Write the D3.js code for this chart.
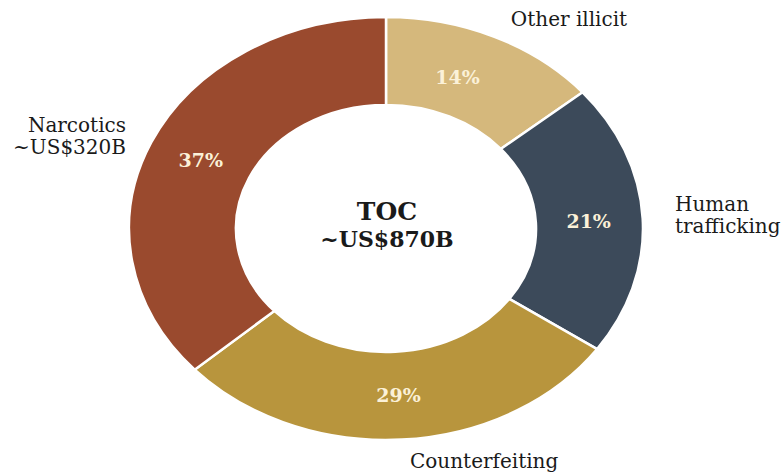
<!DOCTYPE html>
<html>
<head>
<meta charset="utf-8">
<script src="https://cdn.jsdelivr.net/npm/d3@7"></script>
<style>
  body { margin: 0; background: #fff; }
  text { font-family: "DejaVu Serif", serif; }
</style>
</head>
<body>
<div class="donut"></div>
<script>
// slices clockwise from 12 o'clock
const categories = ["Other illicit", "Human trafficking", "Counterfeiting", "Narcotics"]
const shares = [14, 21, 29, 37]
const colors = ["#d5b87c", "#3c4a5a", "#b8953d", "#9a4a2e"]
const centerLines = ["TOC", "~US$870B"]

let width = 782
let height = 474
let cx = 386, cy = 228.5
let radius = 211.5
let inner = 123.5
let stretch = 1.215   // the reference donut is wider than tall

let svg = d3.select(".donut")
    .append("svg")
    .attr("width", width)
    .attr("height", height)

let data = categories.map((c, i) => ({name: c, value: shares[i], color: colors[i]}))

let pie = d3.pie()
    .sort(null)
    .value(d => d.value)
let data_ready = pie(data)

let arc = d3.arc().innerRadius(inner).outerRadius(radius)
let labelArc = d3.arc().innerRadius(150).outerRadius(184)

let g = svg.append("g")
    .attr("transform", "translate(" + cx + "," + cy + ") scale(" + stretch + ",1)")

g.selectAll("path")
    .data(data_ready)
    .enter()
    .append("path")
    .attr("d", arc)
    .attr("fill", d => d.data.color)
    .attr("stroke", "#fff")
    .attr("stroke-width", 2.5)
    .attr("vector-effect", "non-scaling-stroke")

// percentage labels at slice centroids (first one sits a bit left in the reference)
svg.selectAll(".pct")
    .data(data_ready)
    .enter()
    .append("text")
    .attr("class", "pct")
    .attr("x", (d, i) => cx + labelArc.centroid(d)[0] * stretch - (i === 0 ? 14 : 0))
    .attr("y", d => cy + labelArc.centroid(d)[1] + 7)
    .attr("text-anchor", "middle")
    .style("font-size", "19px")
    .style("font-weight", "bold")
    .style("fill", "#fbf1d8")
    .text(d => d.data.value + "%")

// centre title
svg.append("text")
    .attr("x", cx + 1)
    .attr("y", 220)
    .attr("text-anchor", "middle")
    .style("font-size", "25px")
    .style("font-weight", "bold")
    .style("fill", "#1a1a1a")
    .text(centerLines[0])
svg.append("text")
    .attr("x", cx + 1)
    .attr("y", 247)
    .attr("text-anchor", "middle")
    .style("font-size", "22px")
    .style("font-weight", "bold")
    .style("fill", "#1a1a1a")
    .text(centerLines[1])

// outside category labels
let outside = [
    {lines: ["Other illicit"], x: 569, y: 26, anchor: "middle"},
    {lines: ["Human", "trafficking"], x: 675, y: 211, anchor: "start"},
    {lines: ["Counterfeiting"], x: 410, y: 468, anchor: "start"},
    {lines: ["Narcotics", "~US$320B"], x: 126, y: 132, anchor: "end"}
]

outside.forEach(o => {
    let t = svg.append("text")
        .attr("text-anchor", o.anchor)
        .style("font-size", "20px")
        .style("fill", "#1a1a1a")
    o.lines.forEach((l, i) => {
        t.append("tspan")
            .attr("x", o.x)
            .attr("y", o.y + i * 22)
            .text(l)
    })
})
</script>
</body>
</html>
